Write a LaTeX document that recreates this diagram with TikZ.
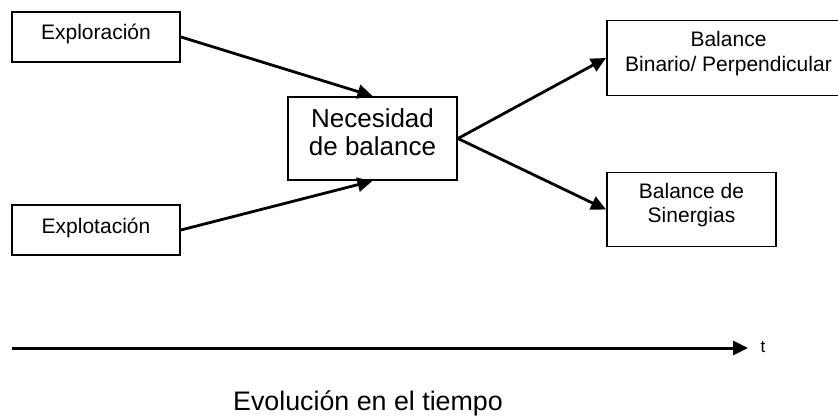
\documentclass[tikz,border=0pt]{standalone}
\usepackage{fontspec}
\setmainfont{Liberation Sans}
\usetikzlibrary{arrows.meta}
\newcommand{\lowpad}[1]{\rule[-#1]{0pt}{0pt}}
\begin{document}
\begin{tikzpicture}[x=1pt,y=-1pt,
  box/.style={draw, line width=1.9pt, rectangle, inner sep=0pt, align=center},
  smallfont/.style={font=\fontsize{21}{24.3}\selectfont},
  conn/.style={line width=2.8pt, -{Triangle[length=15pt,width=14pt]}}]
\useasboundingbox (0,0) rectangle (838,417);
\clip (0,0) rectangle (838,417);
\node[box, smallfont, text height=15pt, text depth=9pt, minimum width=168pt, minimum height=50pt] (explo) at (96,37) {Exploración};
\node[box, smallfont, text height=15pt, text depth=9pt, minimum width=168pt, minimum height=50pt] (explt) at (96,230) {Explotación};
\node[box, font=\fontsize{26}{28}\selectfont, minimum width=169pt, minimum height=83pt] (nec) at (372.5,138.5) {Necesidad\\de balance\lowpad{13.6pt}};
\node[box, smallfont, minimum width=243pt, minimum height=75pt] (bin) at (728.5,58) {Balance\\Binario/ Perpendicular\lowpad{13pt}};
\node[box, smallfont, minimum width=169pt, minimum height=74pt] (sin) at (691.5,209.5) {Balance de\\Sinergias\lowpad{12.7pt}};
\draw[conn] (explo.east) -- (nec.north);
\draw[conn] (explt.east) -- (nec.south);
\draw[conn] (nec.east) -- (bin.west);
\draw[conn] (nec.east) -- (sin.west);
\coordinate (t0) at (12,348);
\coordinate (t1) at (748,348);
\draw[conn, line width=3pt] (t0) -- (t1);
\node[font=\fontsize{17}{20}\selectfont, anchor=base, inner sep=0pt] (tlab) at (763,352) {t};
\node[font=\fontsize{26.8}{30}\selectfont, anchor=base, inner sep=0pt] (evo) at (368,410) {Evolución en el tiempo};
\end{tikzpicture}
\end{document}
